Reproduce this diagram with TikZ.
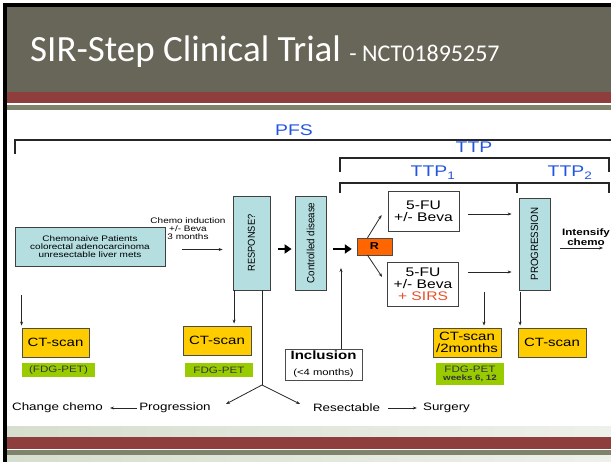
\documentclass[tikz,border=0pt]{standalone}
\usepackage{fontspec}
\setmainfont{Liberation Sans}[FakeStretch=1.25]
\newfontfamily\titlefont{Carlito}
\newfontfamily\narrowfont{Liberation Sans}[FakeStretch=0.93]
\usetikzlibrary{arrows.meta}

\definecolor{slidebg}{RGB}{103,102,88}
\definecolor{slidered}{RGB}{142,62,60}
\definecolor{slideolive}{RGB}{128,131,107}
\definecolor{mistleft}{RGB}{214,222,205}
\definecolor{mistright}{RGB}{238,240,234}
\definecolor{boxcyan}{RGB}{180,222,224}
\definecolor{scanyellow}{RGB}{255,204,0}
\definecolor{petgreen}{RGB}{153,204,0}
\definecolor{randorange}{RGB}{255,102,0}
\definecolor{spanblue}{RGB}{35,85,225}
\definecolor{sirsred}{RGB}{232,80,44}

\newcommand{\ptsize}[1]{\fontsize{#1}{#1}\selectfont}

\tikzset{
  % boxes of the trial scheme
  stage/.style={draw=black!75, fill=boxcyan, line width=0.8pt, inner sep=0pt},
  armbox/.style={draw=black!75, fill=white, line width=0.8pt, minimum width=71pt,
    inner sep=0pt, align=center, font=\fontsize{12.5}{12}\selectfont},
  scanbox/.style={draw=black!70, fill=scanyellow, line width=0.8pt, minimum width=68pt,
    minimum height=29pt, inner sep=0pt, font=\ptsize{12}},
  petbox/.style={fill=petgreen, inner sep=0pt, minimum height=14pt, text=black!80,
    font=\ptsize{9.3}},
  note/.style={inner sep=0pt, font=\ptsize{10.7}},
  span/.style={inner sep=0pt, text=spanblue, font=\ptsize{15.5}},
  brace/.style={line width=1.4pt, draw=black!85},
  link/.style={line width=0.8pt, draw=black!85},
  arr/.style={link, -{Stealth[length=4pt,width=3pt]}},
  fat/.style={line width=2.6pt, -{Triangle[length=7pt,width=9pt]}},
}

\begin{document}
\begin{tikzpicture}[x=1pt,y=-1pt]
  \useasboundingbox (0,0) rectangle (611,462);

  % slide frame
  \fill[slidebg] (7,7) rectangle (611,92);
  \fill[slidered] (7,92) rectangle (611,103);
  \fill[slideolive] (7,105) rectangle (611,110);
  \shade[left color=mistleft, right color=mistright] (7,427) rectangle (611,437);
  \fill[slidered] (7,437) rectangle (611,449);
  \fill[slideolive] (7,450) rectangle (611,456);
  \shade[left color=mistleft, right color=mistright] (7,456) rectangle (611,462);
  \fill[black] (3,3) rectangle (611,7);
  \fill[black] (3,3) rectangle (7,462);

  \node[anchor=base west, inner sep=0pt, text=white] (title) at (30,62)
    {\titlefont\ptsize{37}SIR-Step Clinical Trial \ptsize{24}- NCT01895257};

  % time spans
  \draw[brace] (15,154) -- (15,140) -- (611,140);
  \node[span, anchor=base] (pfs) at (294,136) {PFS};
  \draw[brace] (340,172) -- (340,158) -- (609,158) -- (609,172);
  \node[span, anchor=base] (ttp) at (474,153) {TTP};
  \draw[brace] (340,193) -- (340,183) -- (609,183) -- (609,193) (517,183) -- (517,193);
  \node[span, anchor=base] (ttpA) at (433,177) {TTP\textsubscript{1}};
  \node[span, anchor=base] (ttpB) at (570,177) {TTP\textsubscript{2}};

  % scheme
  \node[stage, minimum width=150pt, minimum height=39pt, align=center,
    font=\fontsize{8}{8}\selectfont] (pat) at (90,246.5)
    {Chemonaive Patients\\colorectal adenocarcinoma\\unresectable liver mets};
  \node[inner sep=0pt, align=center, font=\fontsize{8}{8}\selectfont] (induct) at (188,228.5)
    {Chemo induction\\+/- Beva\\3 months};
  \node[stage, minimum width=37pt, minimum height=94pt] (resp) at (251.5,243)
    {\rotatebox{90}{\narrowfont\ptsize{10}RESPONSE?}};
  \node[stage, minimum width=31pt, minimum height=94pt] (ctrl) at (310.5,243)
    {\rotatebox{90}{\narrowfont\ptsize{10.5}Controlled disease}};
  \node[draw=black!70, fill=randorange, minimum width=35pt, minimum height=17pt,
    inner sep=0pt, font=\bfseries\ptsize{10}] (rand) at (374.5,246.5) {R};
  \node[armbox, minimum height=40pt] (armA) at (423.5,211) {5-FU\\+/- Beva};
  \node[armbox, minimum height=44pt] (armB) at (423,284)
    {5-FU\\+/- Beva\\\textcolor{sirsred}{+ SIRS}};
  \node[stage, minimum width=31pt, minimum height=92pt] (prog) at (534.5,244)
    {\rotatebox{90}{\narrowfont\ptsize{10.5}PROGRESSION}};
  \node[inner sep=0pt, align=center, font=\bfseries\fontsize{9.3}{9.8}\selectfont]
    (intens) at (586,237) {Intensify\\chemo};

  \node[scanbox, minimum width=67pt] (ct1) at (55.5,342.5) {CT-scan};
  \node[petbox, minimum width=73pt] (pet1) at (58.5,370) {(FDG-PET)};
  \node[scanbox] (ct2) at (217,340.5) {CT-scan};
  \node[petbox, minimum width=68pt] (pet2) at (219,370) {FDG-PET};
  \node[draw=black!70, fill=white, line width=0.8pt, minimum width=77pt, minimum height=31pt,
    inner sep=0pt, align=center] (incl) at (323.5,364.5)
    {{\bfseries\ptsize{12}Inclusion}\\[4pt]{\ptsize{9}(<4 months)}};
  \node[scanbox, align=center, font=\fontsize{12}{12.5}\selectfont] (ct3) at (467,342.5)
    {CT-scan\\/2months};
  \node[petbox, minimum width=68pt, minimum height=22pt, align=center,
    font=\fontsize{9.3}{8.7}\selectfont] (pet3) at (470,374)
    {FDG-PET\\{\bfseries\ptsize{7.8}weeks 6, 12}};
  \node[scanbox] (ct4) at (552,342.5) {CT-scan};

  \node[note] (chg) at (57.5,408) {Change chemo};
  \node[note] (progr) at (175,408) {Progression};
  \node[note] (resec) at (346.5,408) {Resectable};
  \node[note] (surg) at (446.5,408) {Surgery};

  % connectors
  \draw[arr, shorten <=17pt, shorten >=10pt] ([yshift=-3pt]pat.east) -- ([yshift=-3pt]pat.east -| resp.west);
  \draw[fat, shorten <=8pt, shorten >=3pt] ([yshift=-6pt]resp.east) -- ([yshift=-6pt]resp.east -| ctrl.west);
  \draw[fat, shorten <=7pt, shorten >=5pt] ([yshift=-6pt]ctrl.east) -- ([yshift=-6pt]ctrl.east -| rand.west);
  \draw[arr] ([xshift=-7pt]rand.north) -- ([xshift=-6pt,yshift=-4pt]armA.west);
  \draw[arr] ([xshift=-7pt]rand.south) -- ([xshift=-5pt,yshift=7pt]armB.west);
  \draw[arr, shorten <=9pt, shorten >=7pt] ([yshift=-3pt]armA.east) -- ([yshift=-3pt]armA.east -| prog.west);
  \draw[arr, shorten <=9pt, shorten >=7pt] ([yshift=12pt]armB.east) -- ([yshift=12pt]armB.east -| prog.west);
  \coordinate (intTip) at (603,248);
  \draw[arr, shorten <=10pt] (prog.east |- intTip) -- (intTip);

  \draw[arr, shorten <=29pt, shorten >=2pt] (pat.south -| ct1.north west) -- (ct1.north west);
  \draw[arr, shorten >=2pt] ([xshift=1.5pt]resp.south west) -- ([xshift=1.5pt]resp.south west |- ct2.north);
  \coordinate (split) at (262,385);
  \coordinate (toProg) at (226,404);
  \coordinate (toResec) at (300,404);
  \draw[link] (resp.south -| split) -- (split);
  \draw[arr] (split) -- (toProg);
  \draw[arr] (split) -- (toResec);
  \coordinate (inclTip) at (341,268);
  \draw[arr] (incl.north -| inclTip) -- (inclTip);
  \draw[arr, shorten <=2pt, shorten >=2pt] ([xshift=17pt]ct3.north |- prog.south) -- ([xshift=17pt]ct3.north);
  \draw[arr, shorten <=2pt, shorten >=2pt] ([xshift=1.5pt]prog.south west) -- ([xshift=1.5pt]prog.south west |- ct4.north);
  \draw[arr, shorten <=2pt, shorten >=7pt] (progr.west) -- (chg.east);
  \draw[arr, shorten <=8pt, shorten >=6pt] (resec.east) -- (surg.west);
\end{tikzpicture}
\end{document}
